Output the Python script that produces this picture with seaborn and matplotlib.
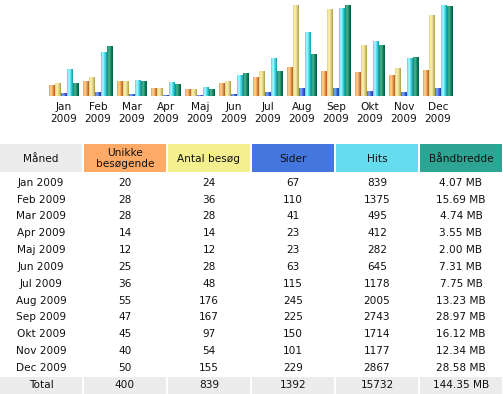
import numpy as np
import pandas as pd
import matplotlib
matplotlib.use("Agg")
import matplotlib.pyplot as plt
from matplotlib.colors import LinearSegmentedColormap
from matplotlib.patches import Rectangle
import seaborn as sns

# data
months = ["Jan", "Feb", "Mar", "Apr", "Maj", "Jun", "Jul", "Aug", "Sep", "Okt", "Nov", "Dec"]
year = "2009"
visitors = [20, 28, 28, 14, 12, 25, 36, 55, 47, 45, 40, 50]
visits = [24, 36, 28, 14, 12, 28, 48, 176, 167, 97, 54, 155]
pages = [67, 110, 41, 23, 23, 63, 115, 245, 225, 150, 101, 229]
hits = [839, 1375, 495, 412, 282, 645, 1178, 2005, 2743, 1714, 1177, 2867]
bandwidth = [4.07, 15.69, 4.74, 3.55, 2.00, 7.31, 7.75, 13.23, 28.97, 16.12, 12.34, 28.58]

headers = ["Måned", "Unikke\nbesøgende", "Antal besøg", "Sider", "Hits", "Båndbredde"]
header_colors = ["#ECECEC", "#FFAA66", "#F4F090", "#4477DD", "#66DDEE", "#2EA495"]

sns.set_style("white")
plt.rcParams["font.family"] = ["DejaVu Sans"]
FS = 7.6

# bars scaled like awstats: visitors/visits together, pages/hits together, bandwidth alone
m1 = max(max(visitors), max(visits))
m2 = max(max(pages), max(hits))
m3 = max(bandwidth)
series = {
    "u": [v / m1 for v in visitors],
    "v": [v / m1 for v in visits],
    "p": [v / m2 for v in pages],
    "h": [v / m2 for v in hits],
    "k": [v / m3 for v in bandwidth],
}
rows = []
for s, vals in series.items():
    for m, val in zip(months, vals):
        rows.append({"month": m, "serie": s, "val": val})
df = pd.DataFrame(rows)

# light -> mid -> dark per series (gradient bars)
grads = {
    "u": ["#FFD6A8", "#EC9A48", "#A85C1C"],
    "v": ["#FAF2B8", "#E2D182", "#A89A48"],
    "p": ["#8AAAF4", "#3A66D8", "#1A3C9C"],
    "h": ["#B4FAFF", "#46D8E8", "#1296A8"],
    "k": ["#4AB896", "#168466", "#00583A"],
}
pal = {k: v[1] for k, v in grads.items()}

fig = plt.figure(figsize=(5.03, 3.94), dpi=100)
W, H = 503, 394

# table axes in pixel coords
tax = fig.add_axes([0, 0, 1, 1])
tax.set_xlim(0, W)
tax.set_ylim(H, 0)
tax.axis("off")

col_w = 82
col_step = 84
# header
for i, (hd, c) in enumerate(zip(headers, header_colors)):
    tax.add_patch(Rectangle((i * col_step, 144), col_w, 28, facecolor=c, edgecolor="none"))
    tax.text(i * col_step + col_w / 2, 158.5, hd, ha="center", va="center", fontsize=FS,
             color="#111111", linespacing=1.1)

# rows
y0 = 182.7
pitch = 16.85
for r, m in enumerate(months):
    y = y0 + r * pitch
    cells = [f"{m} {year}", str(visitors[r]), str(visits[r]), str(pages[r]), str(hits[r]),
             f"{bandwidth[r]:.2f} MB"]
    for i, t in enumerate(cells):
        tax.text(i * col_step + col_w / 2, y, t, ha="center", va="center", fontsize=FS, color="#111111")

# total row
tot = ["Total", str(sum(visitors)), str(sum(visits)), str(sum(pages)), str(sum(hits)),
       f"{sum(bandwidth):.2f} MB"]
for i, t in enumerate(tot):
    tax.add_patch(Rectangle((i * col_step, 377), col_w, 17, facecolor="#ECECEC", edgecolor="none"))
    tax.text(i * col_step + col_w / 2, 385.5, t, ha="center", va="center", fontsize=FS, color="#111111")

# bar chart
ax = fig.add_axes([47 / W, (H - 96) / H, 408 / W, 91 / H])
sns.barplot(data=df, x="month", y="val", hue="serie", hue_order=list(series.keys()),
            palette=pal, width=0.88, dodge=True, legend=False, ax=ax, saturation=1)

grad = np.linspace(0, 1, 64).reshape(1, -1)
for cont, s in zip(ax.containers, series.keys()):
    cmap = LinearSegmentedColormap.from_list(s, [grads[s][1], grads[s][0], grads[s][1], grads[s][2]])
    for bar in cont:
        x, w, h = bar.get_x(), bar.get_width(), bar.get_height()
        if h <= 0:
            continue
        ax.imshow(grad, extent=[x, x + w, 0, h], aspect="auto", cmap=cmap, zorder=2,
                  interpolation="bilinear")
        bar.set_visible(False)

ax.set_xlim(-0.5, 11.5)
ax.set_ylim(0, 1)
ax.set_xticks(range(12))
ax.set_xticklabels([f"{m}\n{year}" for m in months], fontsize=FS, linespacing=1.2, color="#111111")
ax.tick_params(axis="x", length=0, pad=4.5)
ax.set_yticks([])
ax.set_xlabel("")
ax.set_ylabel("")
sns.despine(ax=ax, left=True, bottom=True)
ax.patch.set_alpha(0)

fig.savefig("out.png", dpi=100)
